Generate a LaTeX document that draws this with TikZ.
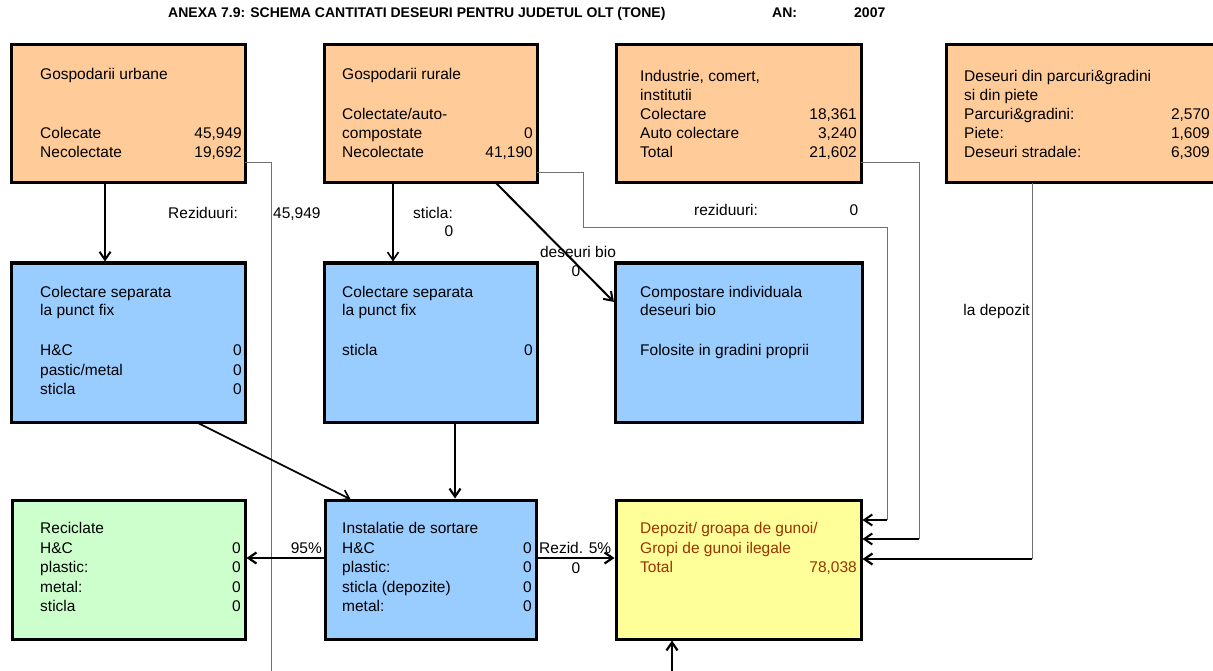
\documentclass[tikz,border=0pt]{standalone}
\usepackage{fontspec}
\setmainfont{Liberation Sans}
\usetikzlibrary{arrows.meta}
\definecolor{boxorange}{HTML}{FFCC99}
\definecolor{boxblue}{HTML}{99CCFF}
\definecolor{boxgreen}{HTML}{CCFFCC}
\definecolor{boxyellow}{HTML}{FFFF99}
\definecolor{textbrown}{HTML}{993300}
\definecolor{linegray}{HTML}{707070}
\begin{document}
\begin{tikzpicture}[x=1pt,y=-1pt,
  box/.style={draw=black, line width=3pt, anchor=north west, inner sep=0pt, outer sep=0pt},
  t/.style={font=\fontsize{15.5}{19}\selectfont, inner sep=0pt, anchor=mid west},
  v/.style={font=\fontsize{15.5}{19}\selectfont, inner sep=0pt, anchor=mid east},
  lab/.style={font=\fontsize{15.5}{19}\selectfont, inner sep=0pt, anchor=mid},
  ttl/.style={font=\bfseries\fontsize{14}{16}\selectfont, inner sep=0pt, anchor=mid west},
  flow/.style={draw=black, line width=2pt, shorten >=1.5pt, -{Straight Barb[length=8pt,width=11pt]}},
  flowthin/.style={draw=black, line width=1.6pt, shorten >=1.5pt, -{Straight Barb[length=8pt,width=11pt]}},
  flowthick/.style={draw=black, line width=2.8pt, shorten >=1.5pt, -{Straight Barb[length=8pt,width=11pt,line width=2.2pt]}},
  thinline/.style={draw=linegray, line width=1pt},
]
\clip (0,0) rectangle (1213,671);
\fill[white] (0,0) rectangle (1213,671);

% title
\node[ttl] (title) at (168,15) {ANEXA 7.9: SCHEMA CANTITATI DESEURI PENTRU JUDETUL OLT (TONE)};
\node[ttl] (anlab) at (772,15) {AN:};
\node[ttl] (anval) at (854,15) {2007};

% boxes
\node[box, fill=boxorange, minimum width=234, minimum height=138] (A) at (11,45) {};
\node[box, fill=boxorange, minimum width=213, minimum height=138] (B) at (324,45) {};
\node[box, fill=boxorange, minimum width=245, minimum height=138] (C) at (616,45) {};
\node[box, fill=boxorange, minimum width=290, minimum height=138] (D) at (946,45) {};
\node[box, fill=boxblue, minimum width=234, minimum height=159] (E) at (11,263) {};
\node[box, fill=boxblue, minimum width=213, minimum height=159] (F) at (324,263) {};
\node[box, fill=boxblue, minimum width=247, minimum height=159] (G) at (615,263) {};
\node[box, fill=boxgreen, minimum width=233, minimum height=139] (I) at (12,500) {};
\node[box, fill=boxblue, minimum width=211, minimum height=139] (H) at (325,500) {};
\node[box, fill=boxyellow, minimum width=245, minimum height=139] (J) at (616,500) {};

% box texts A
\node[t] (a1) at (40,77) {Gospodarii urbane};
\node[t] (a2) at (40,136) {Colecate};
\node[v] (a2v) at (242,136) {45,949};
\node[t] (a3) at (40,155) {Necolectate};
\node[v] (a3v) at (242,155) {19,692};
% B
\node[t] (b1) at (342,77) {Gospodarii rurale};
\node[t] (b2) at (342,117) {Colectate/auto-};
\node[t] (b3) at (342,136) {compostate};
\node[v] (b3v) at (533,136) {0};
\node[t] (b4) at (342,155) {Necolectate};
\node[v] (b4v) at (533,155) {41,190};
% C
\node[t] (c1) at (640,79) {Industrie, comert,};
\node[t] (c2) at (640,98) {institutii};
\node[t] (c3) at (640,117) {Colectare};
\node[v] (c3v) at (857,117) {18,361};
\node[t] (c4) at (640,136) {Auto colectare};
\node[v] (c4v) at (857,136) {3,240};
\node[t] (c5) at (640,155) {Total};
\node[v] (c5v) at (857,155) {21,602};
% D
\node[t] (d1) at (964,79) {Deseuri din parcuri\&gradini};
\node[t] (d2) at (964,98) {si din piete};
\node[t] (d3) at (964,117) {Parcuri\&gradini:};
\node[v] (d3v) at (1210,117) {2,570};
\node[t] (d4) at (964,136) {Piete:};
\node[v] (d4v) at (1210,136) {1,609};
\node[t] (d5) at (964,155) {Deseuri stradale:};
\node[v] (d5v) at (1210,155) {6,309};
% E
\node[t] (e1) at (40,295) {Colectare separata};
\node[t] (e2) at (40,313) {la punct fix};
\node[t] (e3) at (40,353) {H\&C};
\node[v] (e3v) at (242,353) {0};
\node[t] (e4) at (40,373) {pastic/metal};
\node[v] (e4v) at (242,373) {0};
\node[t] (e5) at (40,392) {sticla};
\node[v] (e5v) at (242,392) {0};
% F
\node[t] (f1) at (342,295) {Colectare separata};
\node[t] (f2) at (342,313) {la punct fix};
\node[t] (f3) at (342,353) {sticla};
\node[v] (f3v) at (533,353) {0};
% G
\node[t] (g1) at (640,295) {Compostare individuala};
\node[t] (g2) at (640,313) {deseuri bio};
\node[t] (g3) at (640,353) {Folosite in gradini proprii};
% I
\node[t] (i1) at (40,531) {Reciclate};
\node[t] (i2) at (40,551) {H\&C};
\node[v] (i2v) at (241,551) {0};
\node[t] (i3) at (40,570) {plastic:};
\node[v] (i3v) at (241,570) {0};
\node[t] (i4) at (40,590) {metal:};
\node[v] (i4v) at (241,590) {0};
\node[t] (i5) at (40,609) {sticla};
\node[v] (i5v) at (241,609) {0};
% H
\node[t] (h1) at (342,531) {Instalatie de sortare};
\node[t] (h2) at (342,551) {H\&C};
\node[v] (h2v) at (532,551) {0};
\node[t] (h3) at (342,570) {plastic:};
\node[v] (h3v) at (532,570) {0};
\node[t] (h4) at (342,590) {sticla (depozite)};
\node[v] (h4v) at (532,590) {0};
\node[t] (h5) at (342,609) {metal:};
\node[v] (h5v) at (532,609) {0};
% J
\node[t, text=textbrown] (j1) at (640,531) {Depozit/ groapa de gunoi/};
\node[t, text=textbrown] (j2) at (640,551) {Gropi de gunoi ilegale};
\node[t, text=textbrown] (j3) at (640,570) {Total};
\node[v, text=textbrown] (j3v) at (857,570) {78,038};

% connector labels
\node[t] (lRez) at (168,216) {Reziduuri:};
\node[t] (lRezV) at (273,216) {45,949};
\node[t] (lSt) at (413,216) {sticla:};
\node[lab] (lStV) at (449,234) {0};
\node[t] (lrez) at (694,213) {reziduuri:};
\node[lab] (lrezV) at (854,213) {0};
\node[lab] (lBio) at (578,255) {deseuri bio};
\node[lab] (lBioV) at (576,274) {0};
\node[v] (lDep) at (1030,313) {la depozit};
\node[v] (l95) at (322,551) {95\%};
\node[t] (l5) at (539,551) {Rezid. 5\%};
\node[lab] (l5V) at (576,571) {0};

% helper coordinates
\coordinate (yA) at (0,163);
\coordinate (yB) at (0,173);
\coordinate (aOut) at (271,671);
\coordinate (bBend) at (583,228);
\coordinate (bIn) at (887,520);
\coordinate (cIn) at (919,539);
\coordinate (dIn) at (1032,559);
\coordinate (xAE) at (105,0);
\coordinate (xBF) at (393,0);
\coordinate (xBG) at (496,0);
\coordinate (yBG) at (0,303);
\coordinate (xEH1) at (196,0);
\coordinate (xEH2) at (352,0);
\coordinate (xFH) at (455,0);
\coordinate (yH) at (0,558);
\coordinate (jBot) at (672,671);

% thin gray connectors
\draw[thinline] (A.east |- yA) -| (aOut);
\draw[thinline] (B.east |- yB) -| (bBend) -| (bIn);
\draw[thinline] (C.east |- yA) -| (cIn);
\draw[thinline] (D.south -| dIn) -- (dIn);

% arrows into depozit
\draw[flow] (bIn) -- (J.east |- bIn);
\draw[flow] (cIn) -- (J.east |- cIn);
\draw[flowthick] (dIn) -- (J.east |- dIn);

% flow arrows
\draw[flow] (A.south -| xAE) -- (E.north -| xAE);
\draw[flowthin] (B.south -| xBF) -- (F.north -| xBF);
\draw[flow] (B.south -| xBG) -- (G.west |- yBG);
\draw[flowthin] (E.south -| xEH1) -- (H.north -| xEH2);
\draw[flowthick] (F.south -| xFH) -- (H.north -| xFH);
\draw[flowthick] (H.west |- yH) -- (I.east |- yH);
\draw[flowthick] (H.east |- yH) -- (J.west |- yH);
\draw[flowthick] (jBot) -- (J.south -| jBot);
\end{tikzpicture}
\end{document}
